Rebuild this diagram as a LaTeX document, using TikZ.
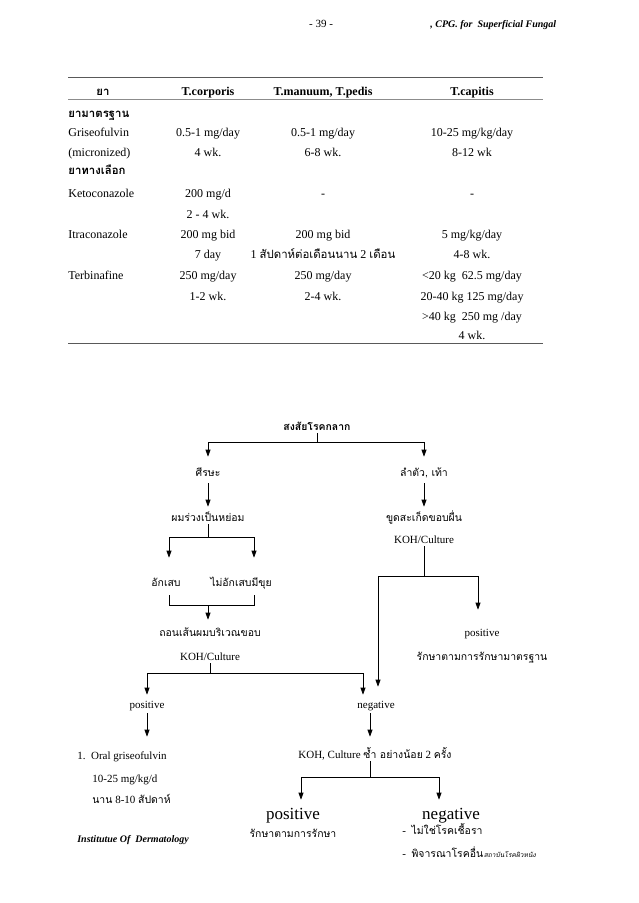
\documentclass[tikz,border=0pt]{standalone}
\usepackage{fontspec}
\setmainfont{Liberation Serif}
\newfontfamily\thai[Script=Thai,Scale=0.95]{Loma}
\newfontfamily\thaisl[Script=Thai,Scale=0.95,FakeSlant=0.2]{Loma}
\usetikzlibrary{arrows.meta}

\begin{document}
\begin{tikzpicture}[
  x=1pt, y=-1pt,
  cell/.style={anchor=base, inner sep=0pt, font=\fontsize{12}{14}\selectfont},
  lcell/.style={cell, anchor=base west},
  hcell/.style={cell, font=\fontsize{12}{14}\selectfont\bfseries},
  flow/.style={anchor=base, inner sep=0pt, text height=9pt, text depth=3pt,
    font=\fontsize{11}{13}\selectfont},
  tflow/.style={flow, font=\fontsize{11}{13}\selectfont\thai},
  big/.style={flow, text height=12pt, text depth=4pt, font=\fontsize{17}{19}\selectfont},
  rule/.style={draw=black!65, line width=0.8pt},
  arr/.style={-{Triangle[width=5pt,length=7pt]}},
  line width=0.7pt
]
\useasboundingbox (0,0) rectangle (638,903);

% page head
\node[anchor=base, inner sep=0pt, font=\fontsize{11}{13}\selectfont] (pgno) at (321,27) {-~39~-};
\node[anchor=base west, inner sep=0pt, font=\fontsize{10}{12}\selectfont\bfseries\itshape] (runhead) at (430,27) {, CPG. for\ \ Superficial Fungal};

% dosage table
\draw[rule] (68,77) -- (543,77);
\draw[rule, draw=black!45] (68,99) -- (543,99);
\draw[rule] (68,343) -- (543,343);

\node[hcell] (hdrug) at (103,95) {\thai ยา};
\node[hcell] (hcorp) at (208,95) {T.corporis};
\node[hcell] (hped) at (323,95) {T.manuum, T.pedis};
\node[hcell] (hcap) at (472,95) {T.capitis};
\node[lcell, font=\fontsize{12}{14}\selectfont\thai\bfseries] (std) at (68,117) {ยามาตรฐาน};
\node[lcell, font=\fontsize{12}{14}\selectfont\thai\bfseries] (alt) at (68,174) {ยาทางเลือก};

\foreach \yy/\ca/\cb/\cc/\cd [count=\i] in {
  136/{Griseofulvin}/{0.5-1 mg/day}/{0.5-1 mg/day}/{10-25 mg/kg/day},
  156/{(micronized)}/{4 wk.}/{6-8 wk.}/{8-12 wk},
  197/{Ketoconazole}/{200 mg/d}/{-}/{-},
  218/{}/{2 - 4 wk.}/{}/{},
  238/{Itraconazole}/{200 mg bid}/{200 mg bid}/{5 mg/kg/day},
  258/{}/{7 day}/{1 {\thai สัปดาห์ต่อเดือนนาน} 2 {\thai เดือน}}/{4-8 wk.},
  279/{Terbinafine}/{250 mg/day}/{250 mg/day}/{<20 kg\ \ 62.5 mg/day},
  300/{}/{1-2 wk.}/{2-4 wk.}/{20-40 kg 125 mg/day},
  320/{}/{}/{}/{>40 kg\ \ 250 mg /day},
  339/{}/{}/{}/{4 wk.}}{
  \node[lcell] (drug\i) at (68,\yy) {\ca};
  \node[cell] (corp\i) at (208,\yy) {\cb};
  \node[cell] (ped\i) at (323,\yy) {\cc};
  \node[cell] (cap\i) at (472,\yy) {\cd};
}

% flow chart
\node[tflow, font=\fontsize{11}{13}\selectfont\thai\bfseries] (root) at (317,430) {สงสัยโรคกลาก};
\node[tflow] (head) at (208,476) {ศีรษะ};
\node[tflow] (body) at (424,476) {ลำตัว, เท้า};
\node[tflow] (hair) at (208,521) {ผมร่วงเป็นหย่อม};
\node[tflow] (scrape) at (424,521) {ขูดสะเก็ดขอบผื่น};
\node[flow] (kohR) at (424,543) {KOH/Culture};
\node[tflow] (infl) at (166,586) {อักเสบ};
\node[tflow] (noinfl) at (241,586) {ไม่อักเสบมีขุย};
\node[tflow] (pluck) at (210,636) {ถอนเส้นผมบริเวณขอบ};
\node[flow] (kohL) at (210,660) {KOH/Culture};
\node[flow] (posL) at (147,708) {positive};
\node[flow] (negL) at (376,708) {negative};
\node[flow] (posR) at (482,636) {positive};
\node[tflow] (stdR) at (482,660) {รักษาตามการรักษามาตรฐาน};
\node[flow, anchor=base west] (oral) at (77,759) {1.\ \ Oral griseofulvin};
\node[flow, anchor=base west] (dose) at (92,782) {10-25 mg/kg/d};
\node[flow, anchor=base west] (weeks) at (92,803) {{\thai นาน} 8-10 {\thai สัปดาห์}};
\node[flow] (redo) at (375,758) {KOH, Culture {\thai ซ้ำ อย่างน้อย} 2 {\thai ครั้ง}};
\node[big] (posB) at (293,819) {positive};
\node[tflow] (treat) at (293,837) {รักษาตามการรักษา};
\node[big] (negB) at (451,819) {negative};
\node[flow, anchor=base west] (notfun) at (402,834) {-\ \ {\thai ไม่ใช่โรคเชื้อรา}};
\node[flow, anchor=base west] (other) at (402,857) {-\ \ {\thai พิจารณาโรคอื่น}};
\node[anchor=base west, inner sep=0pt, font=\fontsize{7}{8}\selectfont\thaisl] (inst) at (other.base east) {สถาบันโรคผิวหนัง};
\node[anchor=base west, inner sep=0pt, font=\fontsize{10}{12}\selectfont\bfseries\itshape] (dept) at (77,842) {Institutue Of\ \ Dermatology};

\draw[arr, shorten >=10pt] (root.south) -- ++(0,9) -| (head.north);
\draw[arr, shorten >=10pt] (root.south) -- ++(0,9) -| (body.north);
\draw[arr, shorten <=4pt, shorten >=5pt] (head.south) -- (hair.north);
\draw[arr, shorten <=4pt, shorten >=5pt] (body.south) -- (scrape.north);
\draw[arr, shorten >=19pt] (hair.south) -- ++(0,13) -| ([xshift=3pt]infl.north);
\draw[arr, shorten >=19pt] (hair.south) -- ++(0,13) -| ([xshift=13pt]noinfl.north);
\draw[shorten <=6pt] ([xshift=3pt]infl.south) -- ++(0,16) coordinate (infjoin)
  -| ([xshift=13pt,yshift=-6pt]noinfl.south);
\draw[arr, shorten >=7pt] (infjoin -| hair) -- (pluck.north -| hair);
\draw[arr, shorten >=4pt] (kohL.south) -- ++(0,10) -| (posL.north);
\draw[arr, shorten >=4pt] (kohL.south) -- ++(0,10) -| ([xshift=-13pt]negL.north);
\draw[arr, shorten >=17pt] (kohR.south) -- ++(0,30) -| ([xshift=-4pt]posR.north);
\draw[arr, shorten >=12pt] (kohR.south) -- ++(0,30) -| ([xshift=2pt]negL.north);
\draw[arr, shorten <=2pt, shorten >=13pt] (posL.south) -- (posL.south |- oral.north);
\draw[arr, shorten <=2pt, shorten >=12pt] ([xshift=-6pt]negL.south) -- ([xshift=-6pt]negL.south |- redo.north);
\draw[arr, shorten >=7pt] ([xshift=-5pt]redo.south) -- ++(0,16) -| ([xshift=8pt]posB.north);
\draw[arr, shorten >=7pt] ([xshift=-5pt]redo.south) -- ++(0,16) -| ([xshift=-12pt]negB.north);
\end{tikzpicture}
\end{document}
